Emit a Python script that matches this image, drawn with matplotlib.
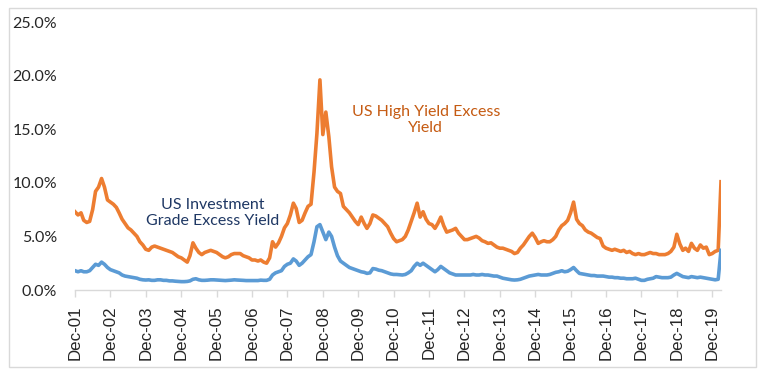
import numpy as np
import pandas as pd
import matplotlib
matplotlib.use("Agg")
import matplotlib.pyplot as plt
import matplotlib.dates as mdates
from matplotlib.patches import Rectangle

# Colours (Excel default palette)
hy_color = "#ED7D31"
ig_color = "#5B9BD5"
hy_text_color = "#C55A11"
ig_text_color = "#1F3864"
grey = "#D9D9D9"

# Monthly excess yields in %, Dec 2001 .. Mar 2020
hy_yield = [
    7.3,
    7.0, 7.2, 6.5, 6.3, 6.4, 7.5, 9.2, 9.6, 10.4, 9.6, 8.4, 8.2,      # 2002
    8.0, 7.7, 7.2, 6.6, 6.2, 5.8, 5.6, 5.3, 5.0, 4.5, 4.2, 3.8,       # 2003
    3.7, 4.0, 4.1, 4.0, 3.9, 3.8, 3.7, 3.6, 3.5, 3.3, 3.1, 3.0,       # 2004
    2.8, 2.6, 3.2, 4.4, 3.9, 3.5, 3.3, 3.5, 3.6, 3.7, 3.6, 3.5,       # 2005
    3.3, 3.1, 3.0, 3.1, 3.3, 3.4, 3.4, 3.4, 3.2, 3.1, 3.0, 2.8,       # 2006
    2.8, 2.7, 2.8, 2.6, 2.5, 3.0, 4.5, 4.0, 4.4, 5.0, 5.8, 6.2,       # 2007
    7.0, 8.1, 7.6, 6.3, 6.5, 7.2, 7.8, 8.0, 11.0, 14.6, 19.6, 14.5,   # 2008
    16.6, 14.3, 11.5, 9.6, 9.2, 9.0, 7.8, 7.5, 7.2, 6.8, 6.4, 6.1,    # 2009
    6.8, 6.2, 5.75, 6.2, 7.0, 6.9, 6.7, 6.5, 6.2, 5.9, 5.3, 4.8,      # 2010
    4.5, 4.6, 4.7, 5.0, 5.6, 6.4, 7.2, 8.1, 6.8, 7.3, 6.6, 6.2,       # 2011
    6.1, 5.75, 6.2, 6.8, 6.0, 5.4, 5.5, 5.6, 5.75, 5.3, 5.0, 4.7,     # 2012
    4.7, 4.8, 4.9, 5.0, 4.85, 4.6, 4.5, 4.35, 4.4, 4.2, 4.0, 3.9,     # 2013
    3.9, 3.8, 3.7, 3.6, 3.4, 3.5, 3.9, 4.2, 4.6, 5.0, 5.3, 4.9,       # 2014
    4.35, 4.5, 4.6, 4.5, 4.5, 4.7, 5.0, 5.6, 6.0, 6.2, 6.5, 7.2,      # 2015
    8.2, 6.6, 6.2, 6.0, 5.6, 5.4, 5.3, 5.1, 4.9, 4.8, 4.1, 3.9,       # 2016
    3.8, 3.7, 3.8, 3.7, 3.6, 3.7, 3.5, 3.6, 3.4, 3.3, 3.4, 3.3,       # 2017
    3.3, 3.4, 3.5, 3.4, 3.4, 3.3, 3.3, 3.3, 3.4, 3.6, 4.0, 5.2,       # 2018
    4.3, 3.7, 3.9, 3.6, 4.35, 3.9, 3.7, 4.2, 3.9, 4.0, 3.3, 3.4,      # 2019
    3.6, 3.7, 10.1,                                                   # 2020
]

ig_yield = [
    1.8,
    1.7, 1.8, 1.7, 1.7, 1.8, 2.1, 2.4, 2.3, 2.6, 2.4, 2.1, 1.9,       # 2002
    1.8, 1.7, 1.6, 1.4, 1.3, 1.25, 1.2, 1.15, 1.1, 1.0, 0.95, 0.93,   # 2003
    0.95, 0.9, 0.9, 0.95, 0.95, 0.9, 0.9, 0.85, 0.85, 0.82, 0.8, 0.78,  # 2004
    0.78, 0.8, 0.85, 1.0, 1.05, 0.95, 0.9, 0.9, 0.92, 0.95, 0.95, 0.93, # 2005
    0.9, 0.88, 0.88, 0.9, 0.92, 0.95, 0.93, 0.92, 0.9, 0.88, 0.88, 0.87, # 2006
    0.87, 0.88, 0.92, 0.9, 0.9, 1.0, 1.4, 1.6, 1.7, 1.8, 2.2, 2.4,    # 2007
    2.5, 2.9, 2.7, 2.3, 2.5, 2.8, 3.1, 3.3, 4.5, 5.9, 6.1, 5.4,       # 2008
    4.7, 5.4, 5.0, 4.0, 3.2, 2.7, 2.5, 2.3, 2.1, 2.0, 1.9, 1.8,       # 2009
    1.7, 1.65, 1.55, 1.6, 2.0, 1.95, 1.85, 1.8, 1.7, 1.6, 1.5, 1.45,  # 2010
    1.45, 1.42, 1.4, 1.45, 1.6, 1.8, 2.2, 2.5, 2.3, 2.5, 2.3, 2.1,    # 2011
    1.9, 1.7, 1.9, 2.2, 2.0, 1.8, 1.6, 1.5, 1.4, 1.4, 1.4, 1.4,       # 2012
    1.4, 1.4, 1.45, 1.4, 1.4, 1.45, 1.4, 1.4, 1.35, 1.3, 1.3, 1.2,    # 2013
    1.1, 1.05, 1.0, 0.95, 0.93, 0.95, 1.0, 1.1, 1.2, 1.3, 1.35, 1.4,  # 2014
    1.45, 1.4, 1.4, 1.4, 1.45, 1.55, 1.65, 1.7, 1.8, 1.7, 1.75, 1.9,  # 2015
    2.1, 1.8, 1.55, 1.5, 1.45, 1.4, 1.35, 1.35, 1.3, 1.3, 1.3, 1.25,  # 2016
    1.2, 1.2, 1.15, 1.15, 1.1, 1.1, 1.05, 1.05, 1.05, 1.1, 1.0, 0.9,  # 2017
    0.9, 1.0, 1.05, 1.1, 1.25, 1.2, 1.15, 1.15, 1.15, 1.2, 1.4, 1.55, # 2018
    1.4, 1.25, 1.2, 1.15, 1.25, 1.2, 1.15, 1.2, 1.15, 1.1, 1.05, 1.0, # 2019
    0.95, 1.0, 3.7,                                                   # 2020
]

months = pd.date_range("2001-12-01", periods=len(hy_yield), freq="MS")
tick_dates = pd.date_range("2001-12-01", "2019-12-01", freq="12MS")

ig_label = "US Investment\nGrade Excess Yield"
hy_label = "US High Yield Excess\nYield"

fig = plt.figure(figsize=(7.6, 3.76), dpi=100)
fig.patch.set_facecolor("white")
fig.patches.append(Rectangle((9 / 760, 1 - 367 / 376), 747 / 760, 359 / 376,
                             transform=fig.transFigure, fill=False,
                             edgecolor=grey, linewidth=1.0))

ax = fig.add_axes([75 / 760, 86 / 376, 646 / 760, 268 / 376])
ax.plot(months, hy_yield, color=hy_color, linewidth=2.6, solid_joinstyle="round")
ax.plot(months, ig_yield, color=ig_color, linewidth=2.6, solid_joinstyle="round")

ax.set_ylim(0, 25)
ax.set_yticks(np.arange(0, 26, 5))
ax.set_yticklabels([f"{v:.1f}%" for v in np.arange(0, 26, 5)],
                   fontsize=11.5, family="Lato", color="#262626")
ax.set_xlim(months[0], months[-1])
ax.set_xticks(tick_dates)
ax.xaxis.set_major_formatter(mdates.DateFormatter("Dec-%y"))
for lab in ax.get_xticklabels():
    lab.set_rotation(90)
    lab.set_fontsize(12.2)
    lab.set_family("Liberation Sans")
    lab.set_color("#262626")

ax.tick_params(axis="y", length=0, pad=13)
ax.tick_params(axis="x", length=5, width=1, color=grey, pad=6)
for side in ["left", "right", "top"]:
    ax.spines[side].set_visible(False)
ax.spines["bottom"].set_color(grey)
ax.spines["bottom"].set_linewidth(1)
ax.set_facecolor("none")

ax.text(0.2136, 0.287, ig_label, transform=ax.transAxes, ha="center", va="center",
        fontsize=11.5, family="Lato", color=ig_text_color, linespacing=1.25)
ax.text(0.543, 0.634, hy_label, transform=ax.transAxes, ha="center", va="center",
        fontsize=11.5, family="Lato", color=hy_text_color, linespacing=1.25)

fig.savefig("out.png", dpi=100)
